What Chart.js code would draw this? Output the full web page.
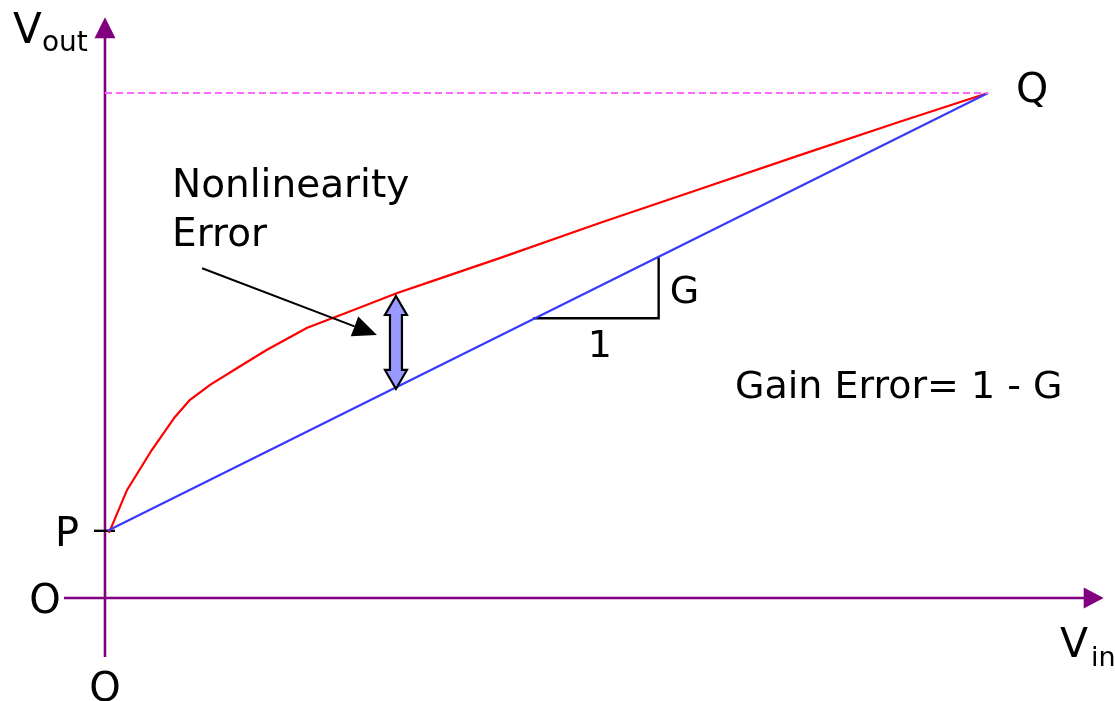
<!DOCTYPE html>
<html>
<head>
<meta charset="utf-8">
<script src="https://cdn.jsdelivr.net/npm/chart.js@4.4.1/dist/chart.umd.min.js"></script>
<style>
  html, body { margin: 0; padding: 0; background: #ffffff; }
  #wrap { width: 1115px; height: 701px; position: relative; }
</style>
</head>
<body>
<div id="wrap"><canvas id="c"></canvas></div>
<script>
// ---- Data (arbitrary units: Vin horizontally, Vout vertically) ----
const curveVin   = [0.045, 0.25, 0.53, 0.79, 0.96, 1.19, 1.53, 1.83, 2.29, 2.72, 3.31, 3.68, 4.47, 5.61, 6.74, 7.87, 9.00, 10.0];
const curveVout  = [1.29, 2.14, 2.93, 3.58, 3.92, 4.22, 4.59, 4.91, 5.35, 5.64, 6.04, 6.26, 6.73, 7.43, 8.10, 8.77, 9.43, 10.0];
const idealVin   = [0.03, 10.0];          // straight line P -> Q
const idealVout  = [1.33, 10.0];
const qLevelVin  = [0, 10.0];              // dashed guide at Q level
const qLevelVout = [10.0, 10.0];
const slopeVin   = [4.85, 6.27, 6.27];     // the "1" / "G" triangle
const slopeVout  = [5.54, 5.54, 6.76];
const pTickVin   = [-0.125, 0.113];        // tick mark at P
const pTickVout  = [1.33, 1.33];
const errArrowVin  = [3.295, 3.295];       // double arrow: red curve to blue line
const errArrowVout = [5.98, 4.14];
const ptrArrowVin  = [1.10, 3.08];         // pointer arrow from the label
const ptrArrowVout = [6.53, 5.21];
const xAxisRange = [-0.464, 11.31];
const yAxisRange = [-1.17, 11.50];

const pts = (xs, ys) => xs.map((x, i) => ({ x: x, y: ys[i] }));

const FONT = '"DejaVu Sans", Verdana, sans-serif';

const overlay = {
  id: 'overlay',
  beforeDatasetsDraw(chart) {
    const ctx = chart.ctx, xs = chart.scales.x, ys = chart.scales.y;
    const X = v => xs.getPixelForValue(v), Y = v => ys.getPixelForValue(v);
    ctx.save();
    ctx.strokeStyle = '#800080';
    ctx.fillStyle = '#800080';
    ctx.lineWidth = 2.6;
    // x axis
    const x0 = X(xAxisRange[0]), x1 = X(xAxisRange[1]), yA = Y(0);
    ctx.beginPath(); ctx.moveTo(x0, yA); ctx.lineTo(x1 - 18, yA); ctx.stroke();
    ctx.beginPath(); ctx.moveTo(x1, yA); ctx.lineTo(x1 - 20, yA - 10.5); ctx.lineTo(x1 - 20, yA + 10.5); ctx.closePath(); ctx.fill();
    // y axis
    const xA = X(0), yb = Y(yAxisRange[0]), yt = Y(yAxisRange[1]);
    ctx.beginPath(); ctx.moveTo(xA, yb); ctx.lineTo(xA, yt + 18); ctx.stroke();
    ctx.beginPath(); ctx.moveTo(xA, yt); ctx.lineTo(xA - 10.5, yt + 21); ctx.lineTo(xA + 10.5, yt + 21); ctx.closePath(); ctx.fill();
    ctx.restore();
  },
  afterDatasetsDraw(chart) {
    const ctx = chart.ctx, xs = chart.scales.x, ys = chart.scales.y;
    const X = v => xs.getPixelForValue(v), Y = v => ys.getPixelForValue(v);
    ctx.save();
    // pointer arrow
    const ax0 = X(ptrArrowVin[0]), ay0 = Y(ptrArrowVout[0]);
    const ax1 = X(ptrArrowVin[1]), ay1 = Y(ptrArrowVout[1]);
    const ang = Math.atan2(ay1 - ay0, ax1 - ax0);
    const hl = 24, hw = 10.5;
    const bx = ax1 - hl * Math.cos(ang), by = ay1 - hl * Math.sin(ang);
    ctx.strokeStyle = '#000'; ctx.fillStyle = '#000'; ctx.lineWidth = 2;
    ctx.beginPath(); ctx.moveTo(ax0, ay0); ctx.lineTo(bx, by); ctx.stroke();
    ctx.beginPath();
    ctx.moveTo(ax1, ay1);
    ctx.lineTo(bx + hw * Math.sin(ang), by - hw * Math.cos(ang));
    ctx.lineTo(bx - hw * Math.sin(ang), by + hw * Math.cos(ang));
    ctx.closePath(); ctx.fill();

    // double arrow (block arrow)
    const cx = X(errArrowVin[0]), top = Y(errArrowVout[0]), bot = Y(errArrowVout[1]);
    const sh = 6, hh = 11, hL = 19;
    ctx.beginPath();
    ctx.moveTo(cx, top);
    ctx.lineTo(cx + hh, top + hL);
    ctx.lineTo(cx + sh, top + hL);
    ctx.lineTo(cx + sh, bot - hL);
    ctx.lineTo(cx + hh, bot - hL);
    ctx.lineTo(cx, bot);
    ctx.lineTo(cx - hh, bot - hL);
    ctx.lineTo(cx - sh, bot - hL);
    ctx.lineTo(cx - sh, top + hL);
    ctx.lineTo(cx - hh, top + hL);
    ctx.closePath();
    ctx.fillStyle = '#9999ff'; ctx.fill();
    ctx.lineWidth = 2.2; ctx.lineJoin = 'miter'; ctx.strokeStyle = '#000'; ctx.stroke();

    // texts
    ctx.fillStyle = '#000';
    ctx.textBaseline = 'alphabetic';
    const txt = (s, px, py, size, align) => {
      ctx.font = size + 'px ' + FONT;
      ctx.textAlign = align || 'left';
      ctx.fillText(s, px, py);
    };
    // Vout (y axis title)
    txt('V', X(0) - 92, Y(0) - 555, 42);
    txt('out', X(0) - 63, Y(0) - 547, 28);
    // Vin (x axis title)
    txt('V', X(0) + 955, Y(0) + 59, 41);
    txt('in', X(0) + 986, Y(0) + 68, 27);
    // origin labels
    txt('O', X(0) - 60, Y(0) + 15, 40, 'center');
    txt('O', X(0), Y(0) + 103, 40, 'center');
    // P and Q
    txt('P', X(0) - 50, Y(idealVout[0]) + 15, 40);
    txt('Q', X(idealVin[1]) + 28, Y(idealVout[1]) + 9, 41);
    // triangle labels
    txt('G', X(slopeVin[1]) + 11, Y(slopeVout[0]) - 15, 38);
    txt('1', (X(slopeVin[0]) + X(slopeVin[1])) / 2 + 4, Y(slopeVout[0]) + 39, 38, 'center');
    // notes
    txt('Gain Error= 1 - G', 735, 398, 38);
    txt('Nonlinearity', 172, 197, 39);
    txt('Error', 172, 246, 39);
    ctx.restore();
  }
};

new Chart(document.getElementById('c'), {
  type: 'scatter',
  data: {
    datasets: [
      { data: pts(qLevelVin, qLevelVout), showLine: true, borderColor: '#ff66ff', borderWidth: 1.8, borderDash: [7, 4], pointRadius: 0 },
      { data: pts(idealVin, idealVout), showLine: true, borderColor: '#3838ff', borderWidth: 2.2, pointRadius: 0 },
      { data: pts(curveVin, curveVout), showLine: true, borderColor: '#ff0000', borderWidth: 2.2, pointRadius: 0, tension: 0 },
      { data: pts(slopeVin, slopeVout), showLine: true, borderColor: '#000000', borderWidth: 2.4, pointRadius: 0 },
      { data: pts(pTickVin, pTickVout), showLine: true, borderColor: '#000000', borderWidth: 2.4, pointRadius: 0 }
    ]
  },
  options: {
    responsive: true,
    maintainAspectRatio: false,
    animation: false,
    layout: { padding: 0 },
    plugins: { legend: { display: false }, tooltip: { enabled: false }, title: { display: false } },
    scales: {
      x: { type: 'linear', display: false, min: -1.189, max: 11.438 },
      y: { type: 'linear', display: false, min: -2.040, max: 11.842 }
    }
  },
  plugins: [overlay]
});
</script>
</body>
</html>
